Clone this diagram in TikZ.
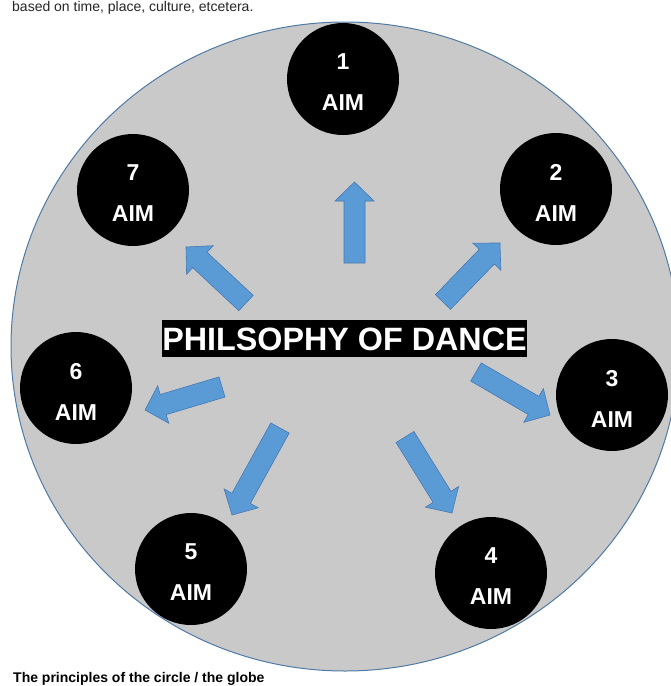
\documentclass[tikz,border=0pt]{standalone}
\usepackage{fontspec}
\setmainfont{Liberation Sans}
\usetikzlibrary{calc}
\definecolor{discgray}{RGB}{201,201,201}
\definecolor{discline}{RGB}{80,122,166}
\definecolor{arrowblue}{RGB}{91,155,213}
\definecolor{arrowline}{RGB}{70,120,180}
\tikzset{
  aimdisc/.style={circle, fill=black, minimum size=112pt, inner sep=0pt},
  aimtext/.style={text=white, align=center, inner sep=0pt, font=\fontsize{23}{41}\selectfont\bfseries},
  titlebox/.style={fill=black, text=white, inner sep=0pt, minimum width=365pt, minimum height=37pt,
    text height=23pt, text depth=0pt, font=\fontsize{32.3}{36}\selectfont\bfseries},
  barrow/.style={fill=arrowblue, draw=arrowline, line width=0.6pt, line join=miter},
  pagetext/.style={anchor=base west, inner sep=0pt, font=\fontsize{14}{16}\selectfont}
}
\newcommand\blockarr[3]{%
  \coordinate (#3n) at ($(#2)!19pt!(#1)$);
  \draw[barrow] ($(#1)!10.5pt!90:(#2)$) -- ($(#3n)!10.5pt!90:(#2)$) -- ($(#3n)!19.5pt!90:(#2)$)
    -- (#2) -- ($(#3n)!19.5pt!-90:(#2)$) -- ($(#3n)!10.5pt!-90:(#2)$) -- ($(#1)!10.5pt!-90:(#2)$) -- cycle;
}
\begin{document}
\begin{tikzpicture}[x=1pt,y=-1pt]
\useasboundingbox (0,0) rectangle (671,686);
\clip (0,0) rectangle (671,686);
\fill[white] (0,0) rectangle (671,686);
% page text
\node[pagetext, text=black!85] (toptext) at (12,11) {based on time, place, culture, etcetera.};
\node[pagetext, font=\fontsize{14}{16}\selectfont\bfseries, text=black] (bottext) at (13,682.5) {The principles of the circle / the globe};
% big disc
\draw[fill=discgray, draw=discline, line width=1pt] (345,346.5) ellipse [x radius=334, y radius=324.5];
% aims
\node[aimdisc] (a1) at (343,79) {};
\node[aimdisc] (a2) at (556,189) {};
\node[aimdisc] (a3) at (612,395) {};
\node[aimdisc] (a4) at (491,573) {};
\node[aimdisc] (a5) at (191,569) {};
\node[aimdisc] (a6) at (76,388) {};
\node[aimdisc] (a7) at (133,190) {};
\foreach \i in {1,...,7}{
  \node[aimtext] (t\i) at ($(a\i)+(0,3.5)$) {\i\\AIM};
}
% title
\node[titlebox] (title) at (344.5,338.5) {PHILSOPHY OF DANCE};
% block arrows
\coordinate (s1) at (354.5,263); \coordinate (h1) at (354.5,182);
\coordinate (s2) at (443,302);   \coordinate (h2) at (500,243);
\coordinate (s3) at (476,372);   \coordinate (h3) at (550,415);
\coordinate (s4) at (405,437);   \coordinate (h4) at (452,513);
\coordinate (s5) at (280,428);   \coordinate (h5) at (232,515);
\coordinate (s6) at (222,387);   \coordinate (h6) at (145,410);
\coordinate (s7) at (246,303);   \coordinate (h7) at (186,247);
\blockarr{s1}{h1}{n1}
\blockarr{s2}{h2}{n2}
\blockarr{s3}{h3}{n3}
\blockarr{s4}{h4}{n4}
\blockarr{s5}{h5}{n5}
\blockarr{s6}{h6}{n6}
\blockarr{s7}{h7}{n7}
\end{tikzpicture}
\end{document}
